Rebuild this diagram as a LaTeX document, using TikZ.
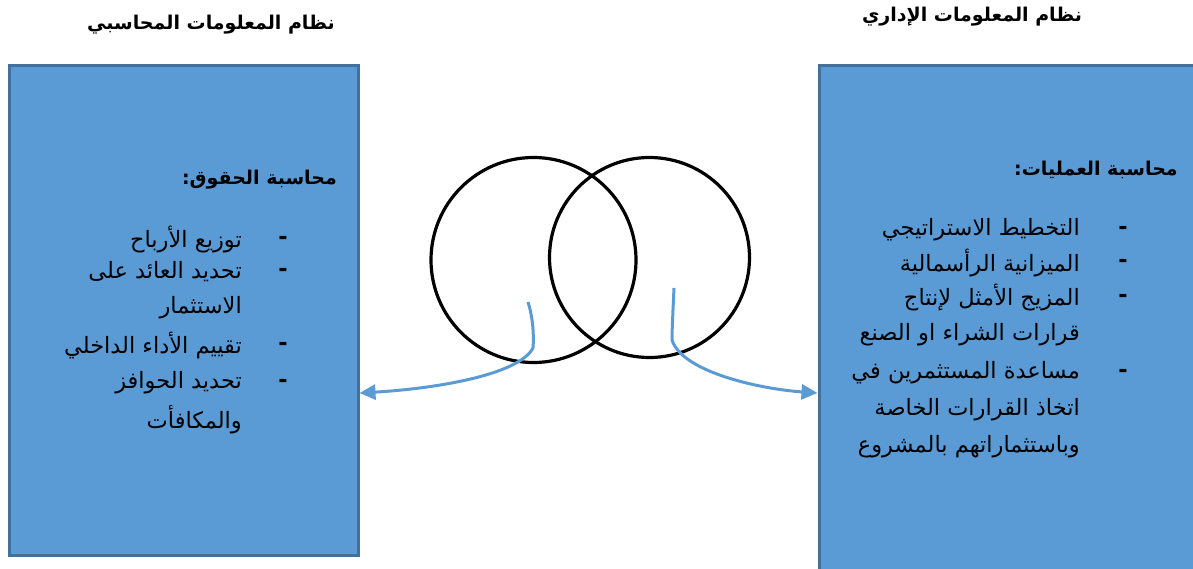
\documentclass[tikz,border=0pt]{standalone}
\usepackage{fontspec}
\usetikzlibrary{arrows.meta}
\TeXXeTstate=1
\newfontfamily\arabicfont[Script=Arabic]{DejaVu Sans}
\definecolor{boxfill}{RGB}{91,155,213}
\definecolor{boxline}{RGB}{65,113,156}
\tikzset{
  infobox/.style={draw=boxline, line width=3pt, fill=boxfill, rectangle, inner sep=0pt},
  ring/.style={draw=black, line width=3.2pt, circle, inner sep=0pt},
  titletxt/.style={font=\arabicfont\bfseries\fontsize{19}{22}\selectfont, inner sep=0pt},
  headtxt/.style={font=\arabicfont\bfseries\fontsize{19}{22}\selectfont, inner sep=0pt, anchor=east},
  bodytxt/.style={font=\arabicfont\fontsize{22.5}{26}\selectfont, inner sep=0pt, anchor=east},
  dashtxt/.style={font=\arabicfont\bfseries\fontsize{22.5}{26}\selectfont, inner sep=0pt},
  link/.style={draw=boxfill, line width=3pt, -{Triangle[length=16pt,width=15pt]}}
}
\begin{document}
\begin{tikzpicture}[x=1pt,y=-1pt]
\useasboundingbox (0,0) rectangle (1193,569);
\clip (0,0) rectangle (1193,569);
% titles
\node[titletxt] (ltitle) at (211,25) {\beginR نظام المعلومات المحاسبي\endR};
\node[titletxt] (rtitle) at (972,17) {\beginR نظام المعلومات الإداري\endR};
% boxes
\node[infobox, minimum width=349pt, minimum height=489pt] (lbox) at (183.5,310.5) {};
\node[infobox, minimum width=400pt, minimum height=540pt] (rbox) at (1019,336) {};
% circles
\node[ring, minimum size=205pt] (lcirc) at (533.5,260) {};
\node[ring, minimum size=200pt] (rcirc) at (649.5,257.5) {};
% left box text
\node[headtxt] (lhead) at (337,180) {\beginR محاسبة الحقوق:\endR};
\node[dashtxt] (ld1) at (283,240) {-};
\node[bodytxt] (la1) at (242,240) {\beginR توزيع الأرباح\endR};
\node[dashtxt] (ld2) at (283,272) {-};
\node[bodytxt] (la2) at (242,272) {\beginR تحديد العائد على\endR};
\node[bodytxt] (la3) at (242,308) {\beginR الاستثمار\endR};
\node[dashtxt] (ld3) at (283,346) {-};
\node[bodytxt] (la4) at (242,346) {\beginR تقييم الأداء الداخلي\endR};
\node[dashtxt] (ld4) at (283,383) {-};
\node[bodytxt] (la5) at (242,383) {\beginR تحديد الحوافز\endR};
\node[bodytxt] (la6) at (242,420) {\beginR والمكافأت\endR};
% right box text
\node[headtxt] (rhead) at (1178,170) {\beginR محاسبة العمليات:\endR};
\node[dashtxt] (rd1) at (1123,230) {-};
\node[bodytxt] (ra1) at (1080,230) {\beginR التخطيط الاستراتيجي\endR};
\node[dashtxt] (rd2) at (1123,263) {-};
\node[bodytxt] (ra2) at (1080,263) {\beginR الميزانية الرأسمالية\endR};
\node[dashtxt] (rd3) at (1123,298) {-};
\node[bodytxt] (ra3) at (1080,298) {\beginR المزيج الأمثل لإنتاج\endR};
\node[bodytxt] (ra4) at (1080,335) {\beginR قرارات الشراء او الصنع\endR};
\node[dashtxt] (rd4) at (1123,373) {-};
\node[bodytxt] (ra5) at (1080,373) {\beginR مساعدة المستثمرين في\endR};
\node[bodytxt] (ra6) at (1080,410) {\beginR اتخاذ القرارات الخاصة\endR};
\node[bodytxt] (ra7) at (1080,447) {\beginR وباستثماراتهم بالمشروع\endR};
% connectors
\coordinate (lstart) at (528,302);
\coordinate (lbend) at (533,348);
\coordinate (lend) at (lbox.east |- 0,393);
\coordinate (rstart) at (674,288);
\coordinate (rbend) at (672,340);
\coordinate (rend) at (rbox.west |- 0,393);
\draw[link] (lstart) .. controls (533,318) and (534,335) .. (lbend)
   .. controls (518,376) and (430,389) .. (lend);
\draw[link] (rstart) .. controls (673,310) and (672,330) .. (rbend)
   .. controls (682,372) and (760,389) .. (rend);
\end{tikzpicture}
\end{document}
